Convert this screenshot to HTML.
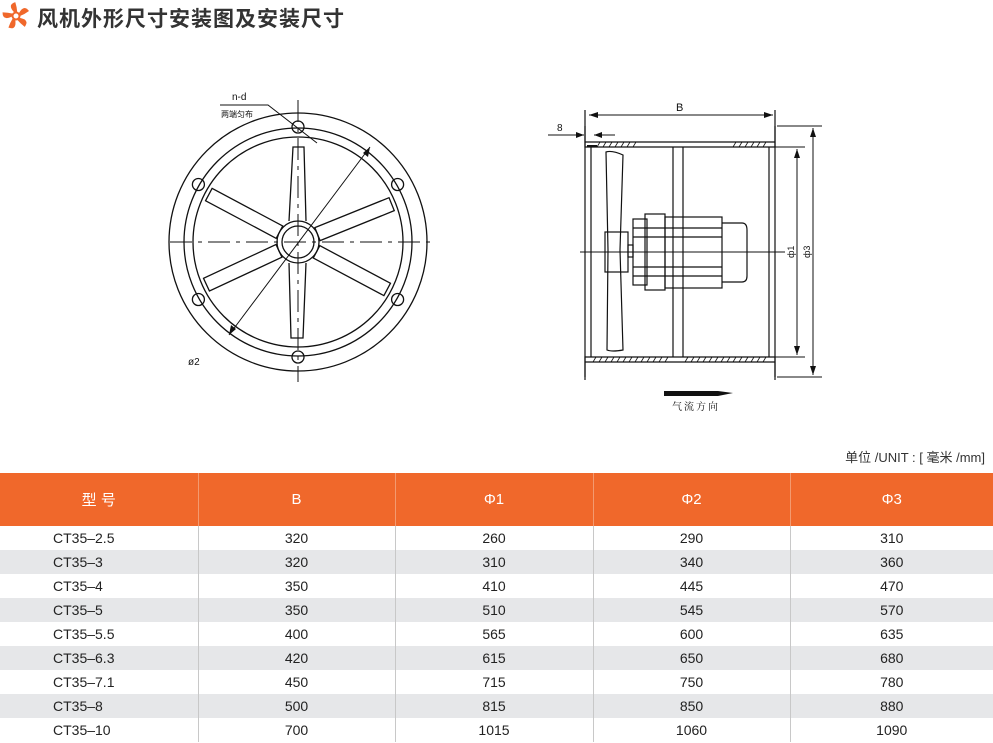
<!DOCTYPE html>
<html><head><meta charset="utf-8"><style>
body{margin:0;width:993px;height:743px;background:#fff;position:relative;overflow:hidden;font-family:"Liberation Sans","Noto Sans CJK SC",sans-serif}
.t{position:absolute;left:37px;top:3px;font-size:21px;font-weight:bold;color:#333;letter-spacing:1px}
.unit{position:absolute;right:8px;top:447px;font-size:13px;color:#333}
table{position:absolute;left:0;top:473px;width:993px;border-collapse:collapse;table-layout:fixed;font-size:14px;color:#222}
th{background:#f0682b;color:#fff;font-weight:normal;font-size:15px;height:53px;border-left:1px solid #f39a70;padding:0}
th:first-child{border-left:none}
td{height:24px;padding:0;text-align:center;border-left:1px solid #c8c8c8}
td:first-child{border-left:none;text-align:left;padding-left:53px}
tr.g td{background:#e6e7e9}
</style></head><body>
<svg style="position:absolute;left:0;top:0" width="993" height="440">
<g transform="translate(16,16)" fill="#f0682b">
<circle r="3.5" fill="none" stroke="#f0682b" stroke-width="2"/>
<g id="b"><path d="M3,-3 Q8,-12 13,-5 Q9,-2 4,0Z"/></g>
<use href="#b" transform="rotate(72)"/><use href="#b" transform="rotate(144)"/><use href="#b" transform="rotate(216)"/><use href="#b" transform="rotate(288)"/>
</g>
<g fill="none" stroke="#111" stroke-width="1.3">
<circle cx="298" cy="242" r="129"/>
<circle cx="298" cy="242" r="114"/>
<circle cx="298" cy="242" r="105"/>
<circle cx="298" cy="242" r="21"/>
<circle cx="298" cy="242" r="16"/>
<g transform="translate(298,242)">
<circle cx="0" cy="-115" r="6"/><circle cx="0" cy="115" r="6"/>
<circle cx="99.6" cy="-57.5" r="6"/><circle cx="-99.6" cy="-57.5" r="6"/>
<circle cx="99.6" cy="57.5" r="6"/><circle cx="-99.6" cy="57.5" r="6"/>
<path d="M-9,-21 L-5,-95 L6,-95 L8,-21"/>
<path d="M-9,21 L-7,96 L5,96 L8,21"/>
<g transform="rotate(-22)"><rect x="21" y="-7" width="80" height="14"/></g>
<g transform="rotate(-152)"><rect x="21" y="-7" width="80" height="14"/></g>
<g transform="rotate(28)"><rect x="21" y="-7" width="80" height="14"/></g>
<g transform="rotate(155)"><rect x="21" y="-7" width="80" height="14"/></g>
</g>
<path d="M170,242 H430" stroke-dasharray="22,6,4,6" stroke-width="1"/>
<path d="M298,100 V382" stroke-dasharray="22,6,4,6" stroke-width="1"/>
<path d="M370,147 L229,335" stroke-width="1"/>
<path d="M220,105 H268 L317,143" stroke-width="1"/>
</g>
<path d="M370,147 l-2,10 l-5,-4z M229,335 l2,-10 l5,4z" fill="#111"/>
<text x="232" y="100" font-size="10" fill="#111">n-d</text>
<text x="221" y="117" font-size="8" fill="#111" font-family="Liberation Sans,Noto Sans CJK SC,sans-serif">两端匀布</text>
<text x="188" y="365" font-size="10" fill="#111">ø2</text>

<g fill="none" stroke="#111" stroke-width="1.2">
<path d="M585,110 V380 M775,110 V380"/>
<path d="M585,126 V147 H775 V126"/>
<path d="M591,147 V357 M769,147 V357"/>
<path d="M585,142 H775"/>
<path d="M585,377 V357 H775 V377"/>
<path d="M585,362 H775"/>
<path d="M673,147 V357 M683,147 V357"/>
<path d="M606,152 Q612,150 623,155 L620,250 L623,350 Q612,352 607,350 L608,250Z"/>
<rect x="605" y="232" width="23" height="40"/>
<rect x="628" y="245" width="5" height="12"/>
<rect x="633" y="219" width="14" height="66"/>
<rect x="645" y="214" width="20" height="76"/>
<rect x="665" y="217" width="57" height="71"/>
<path d="M633,228 H722 M633,237 H722 M633,267 H722 M633,276 H722"/>
<path d="M722,223 H742 Q747,223 747,230 V276 Q747,282 742,282 H722"/>
<path d="M580,252 H785" stroke-width="1"/>
<path d="M589,115 H773" stroke-width="1"/>
<path d="M548,135 H584 M594,135 H615" stroke-width="1"/>
<path d="M777,126 H822 M777,377 H822 M775,147 H805 M775,357 H805" stroke-width="1"/>
<path d="M797,149 V355 M813,128 V375" stroke-width="1"/>
</g>
<g fill="#111">
<path d="M589,115 l9,-3 v6z M773,115 l-9,-3 v6z"/>
<path d="M584,135 l-8,-3 v6z M594,135 l8,-3 v6z"/>
<path d="M797,149 l-3,9 h6z M797,355 l-3,-9 h6z M813,128 l-3,9 h6z M813,375 l-3,-9 h6z"/>
<path d="M664,391 H718 L733,393 L718,396 H664z"/>
<path d="M587,145 h10 v2 h-10z"/>
</g>
<g stroke="#111" stroke-width="0.8">
<path d="M600,142 l-3,5 M606,142 l-3,5 M612,142 l-3,5 M618,142 l-3,5 M624,142 l-3,5 M630,142 l-3,5 M636,142 l-3,5 M736,142 l-3,5 M742,142 l-3,5 M748,142 l-3,5 M754,142 l-3,5 M760,142 l-3,5 M766,142 l-3,5"/>
<path d="M596,357 l-3,5 M602,357 l-3,5 M608,357 l-3,5 M614,357 l-3,5 M620,357 l-3,5 M626,357 l-3,5 M632,357 l-3,5 M638,357 l-3,5 M644,357 l-3,5 M650,357 l-3,5 M656,357 l-3,5 M662,357 l-3,5 M668,357 l-3,5 M688,357 l-3,5 M694,357 l-3,5 M700,357 l-3,5 M706,357 l-3,5 M712,357 l-3,5 M718,357 l-3,5 M724,357 l-3,5 M730,357 l-3,5 M736,357 l-3,5 M742,357 l-3,5 M748,357 l-3,5 M754,357 l-3,5 M760,357 l-3,5 M766,357 l-3,5"/>
</g>
<text x="676" y="111" font-size="11" fill="#111">B</text>
<text x="557" y="131" font-size="10" fill="#111">8</text>
<text transform="translate(794,258) rotate(-90)" font-size="9" fill="#111">ф1</text>
<text transform="translate(810,258) rotate(-90)" font-size="9" fill="#111">ф3</text>
<text x="672" y="410" font-size="10" fill="#111" font-family="Liberation Serif,Noto Serif CJK SC,serif" letter-spacing="2">气流方向</text>
</svg>
<div class="t">风机外形尺寸安装图及安装尺寸</div>
<div class="unit">单位 /UNIT : [ 毫米 /mm]</div>
<table>
<colgroup><col style="width:198px"><col style="width:197px"><col style="width:198px"><col style="width:197px"><col style="width:203px"></colgroup>
<tr><th>型 号</th><th>B</th><th>Φ1</th><th>Φ2</th><th>Φ3</th></tr>
<tr><td>CT35–2.5</td><td>320</td><td>260</td><td>290</td><td>310</td></tr>
<tr class="g"><td>CT35–3</td><td>320</td><td>310</td><td>340</td><td>360</td></tr>
<tr><td>CT35–4</td><td>350</td><td>410</td><td>445</td><td>470</td></tr>
<tr class="g"><td>CT35–5</td><td>350</td><td>510</td><td>545</td><td>570</td></tr>
<tr><td>CT35–5.5</td><td>400</td><td>565</td><td>600</td><td>635</td></tr>
<tr class="g"><td>CT35–6.3</td><td>420</td><td>615</td><td>650</td><td>680</td></tr>
<tr><td>CT35–7.1</td><td>450</td><td>715</td><td>750</td><td>780</td></tr>
<tr class="g"><td>CT35–8</td><td>500</td><td>815</td><td>850</td><td>880</td></tr>
<tr><td>CT35–10</td><td>700</td><td>1015</td><td>1060</td><td>1090</td></tr>
</table>
</body></html>
